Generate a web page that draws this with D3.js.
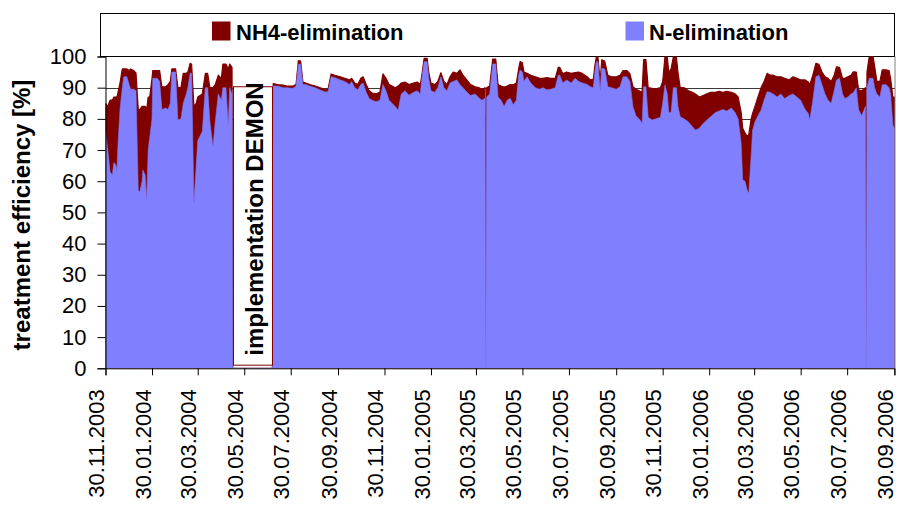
<!DOCTYPE html>
<html>
<head>
<meta charset="utf-8">
<script src="https://cdn.jsdelivr.net/npm/d3@7"></script>
<style>
  html, body { margin: 0; padding: 0; background: #ffffff; }
  svg { display: block; font-family: "Liberation Sans", Arial, sans-serif; }
</style>
</head>
<body>
<svg id="chart" width="901" height="507"></svg>
<script>
// ---------------- DATA ----------------
const startDate = "30.11.2003";
const tickLabels = ["30.11.2003","30.01.2004","30.03.2004","30.05.2004","30.07.2004","30.09.2004",
  "30.11.2004","30.01.2005","30.03.2005","30.05.2005","30.07.2005","30.09.2005","30.11.2005",
  "30.01.2006","30.03.2006","30.05.2006","30.07.2006","30.09.2006"];
const yTicks = [0,10,20,30,40,50,60,70,80,90,100];
const seriesNames = ["NH4-elimination", "N-elimination"];
const yTitle = "treatment efficiency [%]";
const note = "implementation DEMON";

// days after the start date
const dayOffset = [
  0,3,6,9,11,14,15,16,19,22,24,28,31,33,37,40,43,45,48,49,52,54,56,58,61,62,68,71,74,79,82,85,87,92,95,99,
  102,106,108,111,113,116,119,121,127,131,134,137,141,144,148,152,154,158,161,163,166,167,219,
  220,226,233,238,246,250,253,256,259,263,268,275,281,288,292,296,301,308,314,320,323,327,331,335,338,342,
  346,350,355,360,364,368,372,376,380,384,388,393,398,404,409,413,415,418,422,424,427,432,436,440,444,448,
  452,456,461,465,469,474,479,485,490,494,498,499,500,504,508,512,515,519,523,527,531,535,539,542,544,547,
  549,553,558,564,569,574,579,584,590,594,596,600,605,611,616,621,626,632,636,640,642,644,646,649,651,655,
  659,664,670,675,679,684,688,692,696,700,704,706,709,712,717,722,728,731,734,737,739,742,745,749,751,754,
  759,765,770,774,779,784,789,794,800,805,810,815,821,826,830,834,836,839,842,844,847,849,852,856,860,864,
  868,872,876,881,886,891,897,902,907,912,918,922,924,928,932,936,940,944,948,952,956,959,963,967,970,974,
  978,981,985,988,992,997,998,999,1002,1007,1009,1012,1016,1019,1024,1028,1030,1033,1035
];
const nh4Elimination = [
  85,84,86,86,87,87,87,88,91.5,96,96,96,95.5,96,95.5,94.7,83,83,84,84,84,83,87,87,93,95.5,95.5,95.5,90.3,90.3,91,92,96,96,90,90,
  94.6,94.6,95,97.8,97.5,84,85,87,88,94.6,94.6,90,90,91,94,93,97.6,97.6,96,97.6,96.5,0,0,
  91.3,91,90.8,90.5,90.5,91,98.7,98.5,91.8,91.5,91,90.5,90,89.5,89.6,94.4,94,93.5,93,92.5,93,91.5,91,93,93.5,91,
  89,88.3,88,88.6,94.4,93,91,90.5,90,90.5,91.5,91.8,91,91.5,91.8,91,94,99.4,99.4,95,91.5,91,92,94.8,92,91,
  93.5,95,94.6,95.7,94,92.5,91,90.3,90,89.5,90,0,90,90.5,99.2,99.2,91,90.5,90.2,90.5,91,90.9,91.5,96,98.4,98,
  95,94.6,94,93.5,93.1,93,93.2,93,93,96.5,96.5,94.5,95,94.6,94.8,95,94.5,93.5,92.5,92.8,97,100,100,92,98.9,98.5,
  94,93.5,93.5,94,95.5,95.5,94.5,90.3,89.5,89,88.5,99,99,90,89.8,89.6,90,92,100,100,95,96,100,100,95,90,
  90,89,88.5,88,87,87.5,88,88.5,88.5,88.8,88.5,88.8,88.5,88,87,82,77,75.5,74.3,75,80,81.8,84,87,90,92,
  94.6,94,94,93.5,93.5,93,92.5,93.5,93,92.5,92.5,91.8,91,94,97.8,97.5,95,93.5,93,92,94,96.7,96.5,93,93,93.5,
  94,95.1,95,89.3,89,90,0,95,100,100,97,92,92,95.7,95.7,95.5,93,87,87
];
const nElimination = [
  76,70,63,62,66,65,63,70,83,90,93.5,93.5,91,89.5,89.5,89,57,56.6,60,63.6,62,54,70,74,80,93,93,92,83,83.5,83,85,95,95,79.6,80,
  85,88,90,94.6,94.6,53,65,73,76,90,90,79,71,79,88,86,90,90,78,90,88,0,0,
  90.5,90.5,90,90,89.8,90.5,97.5,97.5,91,91,90.5,90,89.3,88.6,88.8,93.5,93.2,92.5,92,91,92,90,89.3,91,91.5,88.5,
  86.5,86,85.5,86,91,89,86,85,84,82.8,88,89,87.6,88.5,89,88,93,98.3,98.3,93,89,88.5,90,93.5,90,89,
  91.5,92,92.5,91,90,88.6,87.5,88,86.7,86,86.6,0,87,88,97.6,97.6,87,86,84,86,86.6,84.5,86,94,95.7,95,
  92,93.5,91.5,90,89.5,90,89.3,89.5,90,94,94,91.5,92.5,91.5,93,92,91.5,91,90.3,90,95,98.3,98.3,89,96.2,96,
  90.3,90,89.5,90.3,93.5,93.5,92,83.9,81,80,78.6,90.3,90.3,80.5,79.6,80,80.5,85,90.9,88,82,82,90,90,84,80.7,
  80,79,77.5,76.4,77,78.5,79.6,80.7,82,82.5,83,82.5,83.5,82,80,72,60.4,60,57,56.2,68,76.4,79,81,82.8,86,
  88.7,88.5,88,87,88,86.5,87.5,88,87,86,83,81.8,79.6,86,93.5,94,91,88,86,85,89,92.5,93,88,86.5,87,
  88,88.4,90,83,81,84,0,90,93,93,90,88,87,90.9,91,90,88,78,77
];

// ---------------- LAYOUT ----------------
const svg = d3.select("#chart");
const plot = { left: 105.5, right: 895, top: 56.5, bottom: 368.3 };
const FONT = "'Liberation Sans', Arial, sans-serif";
const RED = "#800000", BLUE = "#8080FF";

const parseD = d3.timeParse("%d.%m.%Y");
const t0 = parseD(startDate);
const tickDates = tickLabels.map(parseD);

const x = d3.scaleTime().domain([t0, tickDates[tickDates.length - 1]]).range([plot.left, plot.right - 0.6]);
const y = d3.scaleLinear().domain([0, 100]).range([plot.bottom, plot.top]);

const rows = dayOffset.map((d, i) => ({
  date: d3.timeDay.offset(t0, d),
  nh4: nh4Elimination[i],
  n: nElimination[i]
}));

// legend box
svg.append("rect")
  .attr("x", 100.5).attr("y", 13.5).attr("width", 794).attr("height", 43)
  .attr("fill", "#fff").attr("stroke", "#000").attr("stroke-width", 1);

const legendItems = [
  { name: seriesNames[0], color: RED, mx: 212, tx: 236 },
  { name: seriesNames[1], color: BLUE, mx: 625.5, tx: 649 }
];
legendItems.forEach(it => {
  svg.append("rect").attr("x", it.mx).attr("y", 21.5).attr("width", 18.5).attr("height", 19)
    .attr("fill", it.color);
  svg.append("text").attr("x", it.tx).attr("y", 40).attr("font-family", FONT)
    .attr("font-size", 22).attr("font-weight", "bold").attr("fill", "#000").text(it.name);
});

// gridlines
svg.append("g").selectAll("line").data(yTicks.filter(v => v > 0 && v < 100)).join("line")
  .attr("x1", plot.left).attr("x2", plot.right)
  .attr("y1", d => Math.round(y(d)) + 0.5).attr("y2", d => Math.round(y(d)) + 0.5)
  .attr("stroke", "#3a3a3a").attr("stroke-width", 1);

// clip
svg.append("clipPath").attr("id", "clip").append("rect")
  .attr("x", plot.left).attr("y", plot.top).attr("width", plot.right - plot.left).attr("height", plot.bottom - plot.top);

const g = svg.append("g").attr("clip-path", "url(#clip)");

const areaRed = d3.area().x(d => x(d.date)).y0(y(0)).y1(d => y(Math.min(d.nh4, 100)));
const areaBlue = d3.area().x(d => x(d.date)).y0(y(0)).y1(d => y(Math.min(d.n, 100)));

g.append("path").datum(rows).attr("d", areaRed).attr("fill", RED)
  .attr("stroke", RED).attr("stroke-width", 1.2).attr("stroke-linejoin", "round");
g.append("path").datum(rows).attr("d", areaBlue).attr("fill", BLUE)
  .attr("stroke", "#7a78f0").attr("stroke-width", 0.6);

// plot right border
svg.append("line").attr("x1", plot.right).attr("x2", plot.right)
  .attr("y1", plot.top).attr("y2", plot.bottom)
  .attr("stroke", "#808080").attr("stroke-width", 1);

// DEMON note box
const boxX0 = x(d3.timeDay.offset(t0, 167)), boxX1 = x(d3.timeDay.offset(t0, 218));
svg.append("rect").attr("x", Math.round(boxX0) + 0.5).attr("y", y(90.3))
  .attr("width", Math.round(boxX1 - boxX0)).attr("height", y(1) - y(90.3))
  .attr("fill", "#fff").attr("stroke", RED).attr("stroke-width", 1);
svg.append("text")
  .attr("transform", `translate(${(boxX0 + boxX1) / 2 + 11},${219}) rotate(-90)`)
  .attr("text-anchor", "middle").attr("font-family", FONT).attr("font-size", 24)
  .attr("font-weight", "bold").attr("fill", "#000").text(note);

// y axis
const yAxis = d3.axisLeft(y).tickValues(yTicks).tickSize(8).tickPadding(11).tickFormat(d3.format("d"));
const gy = svg.append("g").attr("transform", `translate(${plot.left},0)`).call(yAxis);
gy.select(".domain").attr("stroke", "#000");
gy.selectAll(".tick line").attr("stroke", "#000");
gy.selectAll(".tick text").attr("font-family", FONT).attr("font-size", 22).attr("fill", "#000");

// x axis
const xAxis = d3.axisBottom(x).tickValues(tickDates).tickSize(7).tickFormat((d, i) => tickLabels[i]);
const gx = svg.append("g").attr("transform", `translate(0,${plot.bottom})`).call(xAxis);
gx.select(".domain").attr("stroke", "#000");
gx.selectAll(".tick line").attr("stroke", "#000");
gx.selectAll(".tick text")
  .attr("font-family", FONT).attr("font-size", 22).attr("fill", "#000")
  .attr("text-anchor", "end")
  .attr("transform", "rotate(-90)")
  .attr("x", -21).attr("y", 0).attr("dy", "-0.08em");

// y title
svg.append("text")
  .attr("transform", `translate(30,215) rotate(-90)`)
  .attr("text-anchor", "middle").attr("font-family", FONT).attr("font-size", 24)
  .attr("font-weight", "bold").attr("fill", "#000").text(yTitle);
</script>
</body>
</html>
